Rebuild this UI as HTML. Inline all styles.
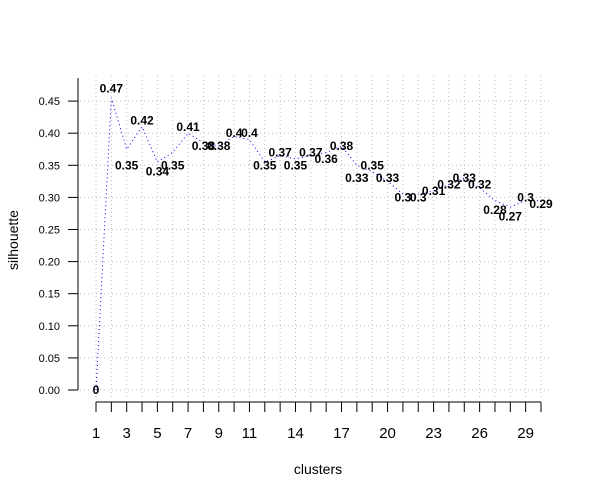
<!DOCTYPE html>
<html><head><meta charset="utf-8"><style>
body{margin:0;background:#fff;}
svg{display:block;font-family:"Liberation Sans",sans-serif;}
</style></head><body>
<svg id="chart" width="600" height="500"></svg>
<script>
const clusters=[1,2,3,4,5,6,7,8,9,10,11,12,13,14,15,16,17,18,19,20,21,22,23,24,25,26,27,28,29,30];
const silhouette=[0,0.455,0.375,0.41,0.355,0.37,0.40,0.385,0.38,0.395,0.39,0.355,0.365,0.36,0.365,0.37,0.38,0.35,0.34,0.325,0.305,0.305,0.31,0.32,0.33,0.315,0.295,0.285,0.295,0.295];
const printed=["0","0.47","0.35","0.42","0.34","0.35","0.41","0.38","0.38","0.4","0.4","0.35","0.37","0.35","0.37","0.36","0.38","0.33","0.35","0.33","0.3","0.3","0.31","0.32","0.33","0.32","0.28","0.27","0.3","0.29"];
const yTicks=[0,0.05,0.1,0.15,0.2,0.25,0.3,0.35,0.4,0.45];
const xTickLabels=[1,3,5,7,9,11,14,17,20,23,26,29];
const NS="http://www.w3.org/2000/svg";
const svg=document.getElementById('chart');
const X=v=>96+(v-1)*(445/29);
const Y=v=>390-v*642;
function mk(t,a,p){const e=document.createElementNS(NS,t);for(const k in a)e.setAttribute(k,a[k]);(p||svg).appendChild(e);return e;}
const grid=mk('g',{});


clusters.forEach(c=>mk('line',{x1:X(c),x2:X(c),y1:76,y2:400,stroke:'#bbb','stroke-dasharray':'1,3'},grid));
yTicks.forEach(t=>mk('line',{x1:80,x2:550,y1:Y(t),y2:Y(t),stroke:'#bbb','stroke-dasharray':'1,3'},grid));
const ya=mk('g',{});


mk('line',{x1:78,x2:78,y1:78,y2:Y(0),stroke:'#000'},ya);
yTicks.forEach(t=>{mk('line',{x1:68,x2:78,y1:Y(t),y2:Y(t),stroke:'#000'},ya);
const tx=mk('text',{x:60,y:Y(t)+4,'text-anchor':'end','font-size':11},ya);tx.textContent=t.toFixed(2);});
const xa=mk('g',{});


mk('line',{x1:X(1),x2:X(30),y1:402,y2:402,stroke:'#000'},xa);
clusters.forEach(c=>mk('line',{x1:X(c),x2:X(c),y1:402,y2:412,stroke:'#000'},xa));
xTickLabels.forEach(c=>{const t=mk('text',{x:X(c),y:438,'text-anchor':'middle','font-size':15},xa);t.textContent=c;});
const line=mk('polyline',{points:clusters.map((c,i)=>X(c)+','+Y(silhouette[i])).join(' '),fill:'none',stroke:'#0000ff','stroke-dasharray':'1,3'});


clusters.forEach((c,i)=>{const t=mk('text',{x:X(c),y:Y(parseFloat(printed[i]))+4,'text-anchor':'middle','font-size':12,'font-weight':'bold'});


t.textContent=printed[i];});
const xt=mk('text',{x:318,y:474,'text-anchor':'middle','font-size':14});


xt.textContent='clusters';
const yt=mk('text',{x:18,y:240,'text-anchor':'middle','font-size':14,transform:'rotate(-90 18 240)'});


yt.textContent='silhouette';
</script>
</body></html>
